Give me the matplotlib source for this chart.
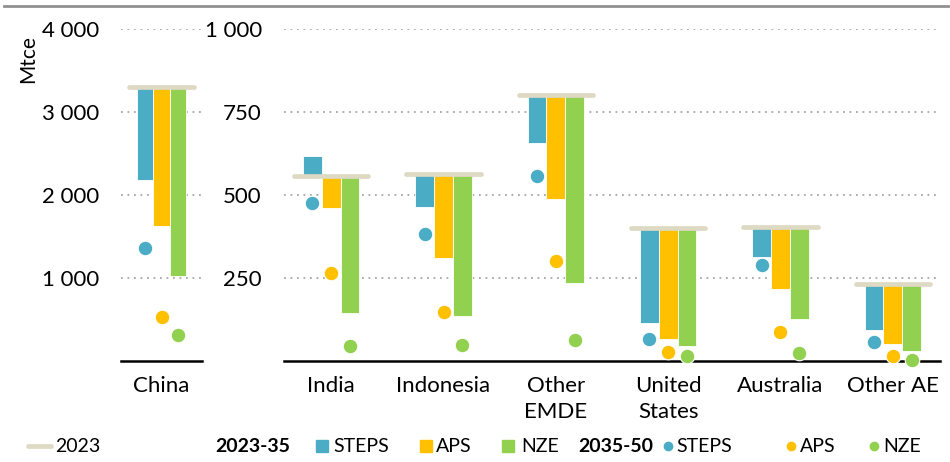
import numpy as np
import matplotlib.pyplot as plt
from matplotlib.lines import Line2D

plt.rcParams['font.family'] = ['Lato', 'DejaVu Sans']

# China (left scale, Mtce)
china_2023 = 3300
china_2035 = [2180, 1630, 1020]   # STEPS, APS, NZE
china_2050 = [1360, 530, 313]

# other regions (right scale, Mtce)
regions = ['India', 'Indonesia', 'Other\nEMDE', 'United\nStates', 'Australia', 'Other AE']
base_2023 = [557, 564, 800, 401, 403, 233]
steps_2035 = [617, 463, 657, 114, 314, 92]
aps_2035 = [462, 310, 487, 66, 216, 52]
nze_2035 = [145, 136, 236, 45, 127, 30]
steps_2050 = [476, 383, 557, 66, 290, 58]
aps_2050 = [266, 149, 300, 28, 88, 15]
nze_2050 = [46, 48, 64, 15, 23, 3]

left_ticks = [1000, 2000, 3000, 4000]
right_ticks = [250, 500, 750, 1000]

blue = '#4bacc6'
yellow = '#ffc000'
green = '#92d050'
beige = '#ddd9c3'
cols = [blue, yellow, green]


def fmt(v):
    return '{:,}'.format(v).replace(',', ' ')


def panel(ax, x, base, v35, v50, bw, half):
    base = np.asarray(base, dtype=float)
    for k in range(3):
        off = (k - 1) * bw
        ax.bar(x + off, np.asarray(v35[k]) - base, bottom=base, width=bw,
               color=cols[k], edgecolor='white', linewidth=0.6, zorder=2)
        ax.plot(x + off, v50[k], 'o', color=cols[k], ms=10.5, mec='white',
                mew=0.8, zorder=4, clip_on=False)
    ax.hlines(base, x - half, x + half, colors=beige, lw=3.4,
              capstyle='round', zorder=3)


def style(ax, ticks, top):
    ax.set_ylim(0, top)
    ax.set_yticks(ticks)
    ax.set_yticklabels([fmt(t) for t in ticks])
    ax.yaxis.grid(True, linestyle=(0, (1, 2.6)), color='#a6a6a6', lw=1.3)
    ax.set_axisbelow(True)
    for s in ['top', 'left', 'right']:
        ax.spines[s].set_visible(False)
    ax.spines['bottom'].set_color('black')
    ax.spines['bottom'].set_linewidth(1.8)
    ax.tick_params(axis='y', length=0, pad=16, labelsize=16)
    ax.tick_params(axis='x', length=0, pad=11, labelsize=16)
    for t in ax.get_xticklabels():
        t.set_linespacing(1.35)


fig = plt.figure(figsize=(9.5, 4.62), dpi=100)
ax1 = fig.add_axes([121 / 950, 101 / 462, 81 / 950, 332 / 462])
ax2 = fig.add_axes([284 / 950, 101 / 462, 656 / 950, 332 / 462])

# China
panel(ax1, np.array([0.0]), [china_2023],
      [[v] for v in china_2035], [[v] for v in china_2050], 0.204, 0.40)
ax1.set_xlim(-0.5, 0.5)
ax1.set_xticks([0])
ax1.set_xticklabels(['China'])
style(ax1, left_ticks, 4000)

# other regions
xr = np.arange(len(regions))
panel(ax2, xr, base_2023, [steps_2035, aps_2035, nze_2035],
      [steps_2050, aps_2050, nze_2050], 0.167, 0.33)
ax2.set_xlim(-0.42, 5.42)
ax2.set_xticks(xr)
ax2.set_xticklabels(regions)
style(ax2, right_ticks, 1000)

fig.text(28 / 950, 1 - 59 / 462, 'Mtce', rotation=90, ha='center', va='center', fontsize=15)
fig.add_artist(Line2D([4 / 950, 948 / 950], [1 - 6 / 462] * 2, color='#909090', lw=2))

# legend
ly = 1 - 446 / 462
W = 950
fig.add_artist(Line2D([28 / W, 51 / W], [ly, ly], color=beige, lw=3.4, solid_capstyle='round'))
fig.text(55 / W, ly, '2023', va='center', fontsize=14)
fig.text(290 / W, ly, '2023-35', va='center', ha='right', fontsize=14, fontweight='bold')
fig.text(653 / W, ly, '2035-50', va='center', ha='right', fontsize=14, fontweight='bold')
items = [(321.5, 's', blue, 'STEPS', 333), (425.5, 's', yellow, 'APS', 436),
         (508, 's', green, 'NZE', 521), (667.5, 'o', blue, 'STEPS', 676),
         (791, 'o', yellow, 'APS', 800), (873.5, 'o', green, 'NZE', 883)]
for cx, m, c, lab, tx in items:
    fig.add_artist(Line2D([cx / W], [ly], marker=m, color=c, ls='none',
                          ms=8 if m == 's' else 6))
    fig.text(tx / W, ly, lab, va='center', fontsize=14)

fig.savefig('out.png', dpi=100)
